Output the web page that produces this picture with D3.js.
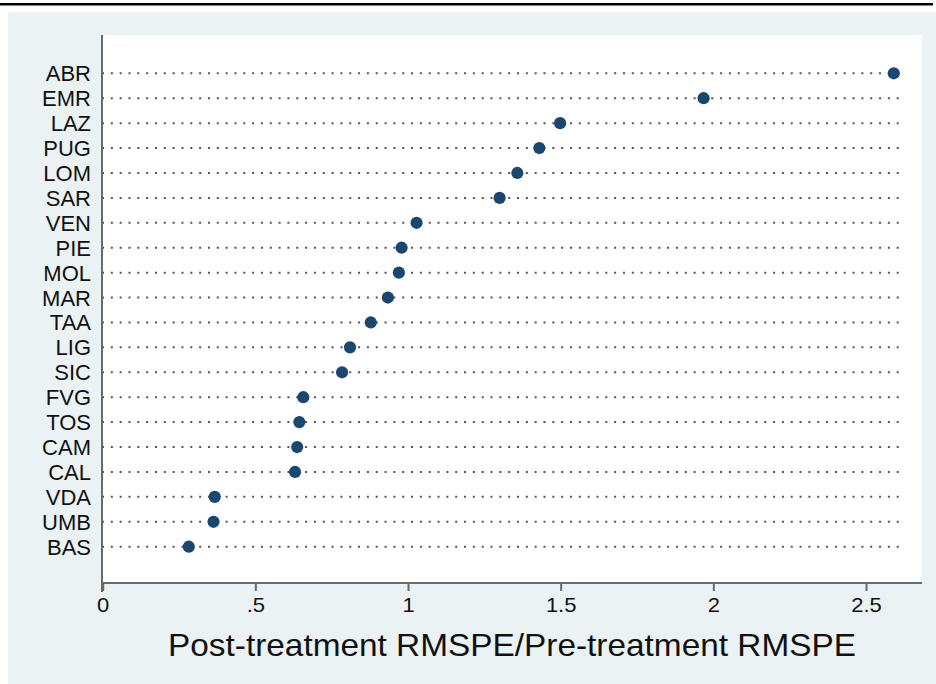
<!DOCTYPE html>
<html>
<head>
<meta charset="utf-8">
<script src="https://cdn.jsdelivr.net/npm/d3@7"></script>
<style>
  body { margin: 0; background: #fff; }
  svg text { font-family: "Liberation Sans", Arial, Helvetica, sans-serif; fill: #111; }
</style>
</head>
<body>
<div id="container"></div>
<script>
// regions, top to bottom
const regions = ["ABR", "EMR", "LAZ", "PUG", "LOM", "SAR", "VEN", "PIE", "MOL", "MAR",
                 "TAA", "LIG", "SIC", "FVG", "TOS", "CAM", "CAL", "VDA", "UMB", "BAS"];
const ratios = [2.591, 1.968, 1.498, 1.430, 1.358, 1.300, 1.028, 0.979, 0.970, 0.934,
                0.878, 0.810, 0.784, 0.657, 0.644, 0.637, 0.630, 0.367, 0.363, 0.282];
const xTicks = [0, 0.5, 1, 1.5, 2, 2.5];
const xTickLabels = ["0", ".5", "1", "1.5", "2", "2.5"];
const xTitle = "Post-treatment RMSPE/Pre-treatment RMSPE";

function drawDotChart() {
    const W = 936, H = 684;
    const plot = { left: 102, right: 922, top: 35, bottom: 583 };

    const svg = d3.select("#container").append("svg")
        .attr("width", W).attr("height", H);

    // top rule + graph region + plot region
    svg.append("rect").attr("x", 0).attr("y", 3).attr("width", 933).attr("height", 2.5).attr("fill", "#000");
    svg.append("rect").attr("x", 8).attr("y", 12).attr("width", W - 8).attr("height", H - 12).attr("fill", "#eaf2f3");
    svg.append("rect").attr("x", plot.left).attr("y", plot.top)
        .attr("width", plot.right - plot.left).attr("height", plot.bottom - plot.top).attr("fill", "#fff");

    const x = d3.scaleLinear().domain([0, 2.5]).range([102.7, 866]);
    const y = d3.scalePoint().domain(regions).range([73.3, 546.7]);

    // dotted guide lines
    svg.append("g").selectAll("line").data(regions).enter().append("line")
        .attr("x1", plot.left).attr("x2", 899)
        .attr("y1", d => y(d)).attr("y2", d => y(d))
        .attr("stroke", "#555").attr("stroke-width", 2)
        .attr("stroke-dasharray", "2 6.83");

    // x axis
    const xAxis = svg.append("g").attr("transform", `translate(0,${plot.bottom})`)
        .call(d3.axisBottom(x).tickValues(xTicks).tickSize(8).tickPadding(7)
            .tickFormat((d, i) => xTickLabels[i]));
    xAxis.select(".domain").remove();
    xAxis.selectAll(".tick line").attr("stroke", "#6a6a6a").attr("stroke-width", 2);
    xAxis.selectAll(".tick text").attr("font-size", 20).attr("fill", "#111")
        .attr("font-family", "Liberation Sans, Arial, sans-serif")
        .attr("transform", "scale(1.1,1)");

    // axis lines
    svg.append("line").attr("x1", plot.left).attr("x2", plot.right)
        .attr("y1", plot.bottom).attr("y2", plot.bottom)
        .attr("stroke", "#6a6a6a").attr("stroke-width", 2);
    svg.append("line").attr("x1", plot.left).attr("x2", plot.left)
        .attr("y1", plot.top).attr("y2", plot.bottom + 9)
        .attr("stroke", "#6a6a6a").attr("stroke-width", 2);

    // category labels
    svg.append("g").selectAll("text").data(regions).enter().append("text")
        .attr("x", 91).attr("y", d => y(d) + 8)
        .attr("text-anchor", "end").attr("font-size", 22)
        .text(d => d);

    // markers
    svg.append("g").selectAll("circle").data(ratios).enter().append("circle")
        .attr("cx", d => x(d)).attr("cy", (d, i) => y(regions[i]))
        .attr("r", 6.1).attr("fill", "#1a476f");

    // axis title
    svg.append("text").attr("x", (plot.left + plot.right) / 2).attr("y", 656)
        .attr("text-anchor", "middle").attr("font-size", 32)
        .attr("textLength", 688).attr("lengthAdjust", "spacingAndGlyphs")
        .text(xTitle);
}

drawDotChart();
</script>
</body>
</html>
